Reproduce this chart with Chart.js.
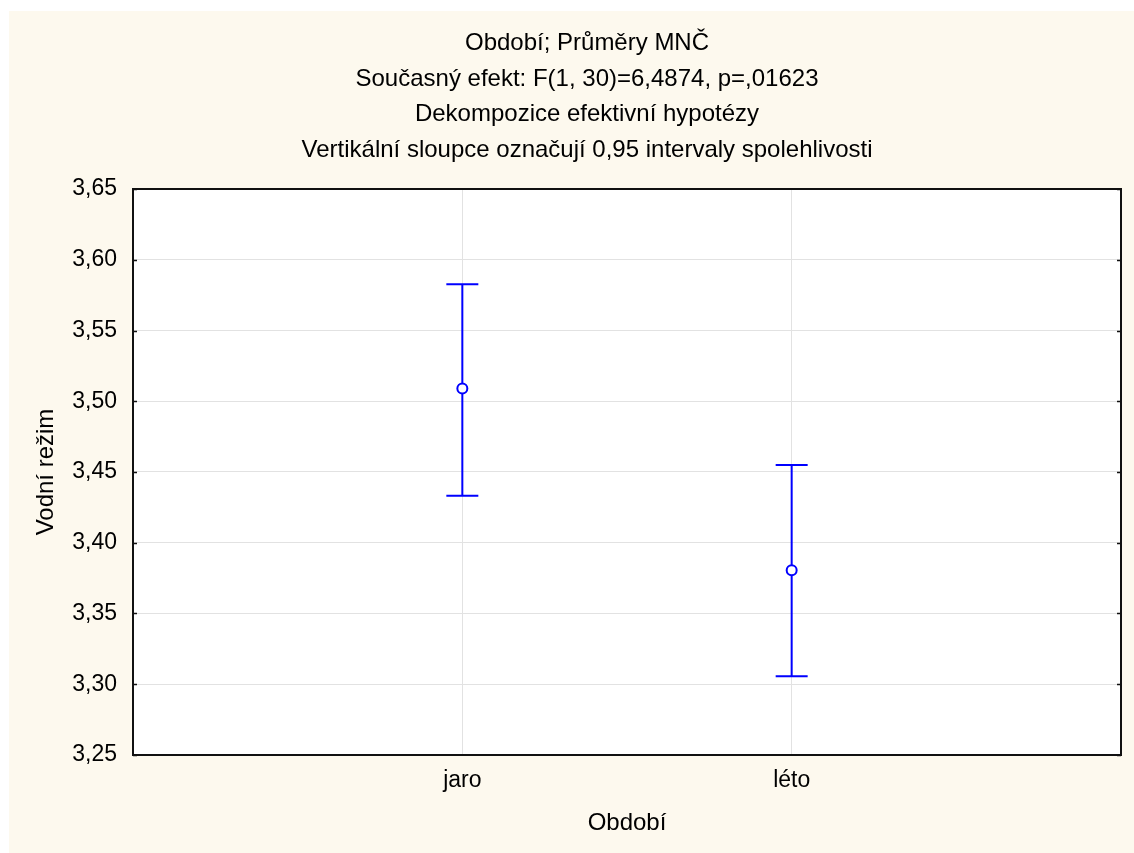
<!DOCTYPE html>
<html>
<head>
<meta charset="utf-8">
<script src="https://cdn.jsdelivr.net/npm/chart.js@4"></script>
<style>
    html, body { margin: 0; padding: 0; background: #ffffff; overflow: hidden; }
    #wrap { width: 1134px; height: 853px; position: relative; }
</style>
</head>
<body>
<div id="wrap"><canvas id="chart"></canvas></div>
<script>
// data
const categories = ['jaro', 'léto'];
const means = [3.509, 3.3805];
const lower = [3.4333, 3.3056];   // 0,95 CI lower
const upper = [3.5827, 3.4549];   // 0,95 CI upper
const yTicks = [3.25, 3.30, 3.35, 3.40, 3.45, 3.50, 3.55, 3.60, 3.65];
const titleLines = [
    'Období; Průměry MNČ',
    'Současný efekt: F(1, 30)=6,4874, p=,01623',
    'Dekompozice efektivní hypotézy',
    'Vertikální sloupce označují 0,95 intervaly spolehlivosti'
];

const FONT = '"Liberation Sans", Arial, sans-serif';
const blue = '#0000ff';

// cream page + white plot + frame
const frame = {
    id: 'frame',
    beforeDraw(chart) {
        const { ctx, chartArea: a } = chart;
        ctx.save();
        ctx.fillStyle = '#ffffff';
        ctx.fillRect(0, 0, chart.width, chart.height);
        ctx.fillStyle = '#fdf9ee';
        ctx.fillRect(9, 11, chart.width - 9, chart.height - 11);
        ctx.fillStyle = '#ffffff';
        ctx.fillRect(a.left, a.top, a.right - a.left, a.bottom - a.top);
        ctx.restore();
    },
    afterDraw(chart) {
        const { ctx, chartArea: a } = chart;
        const y = chart.scales.y;
        ctx.save();
        ctx.strokeStyle = '#111';
        ctx.lineWidth = 2;
        ctx.strokeRect(a.left, a.top, a.right - a.left, a.bottom - a.top);
        ctx.lineWidth = 1.5;
        yTicks.forEach(v => {
            const py = Math.round(y.getPixelForValue(v)) + 0.5;
            ctx.beginPath();
            ctx.moveTo(a.left, py); ctx.lineTo(a.left + 4, py);
            ctx.moveTo(a.right, py); ctx.lineTo(a.right - 4, py);
            ctx.stroke();
        });
        ctx.restore();
    }
};

// vertical CI bars with caps
const errorBars = {
    id: 'errorBars',
    beforeDatasetsDraw(chart) {
        const { ctx } = chart;
        const xs = chart.scales.x, ys = chart.scales.y;
        ctx.save();
        ctx.strokeStyle = blue;
        ctx.lineWidth = 2;
        categories.forEach((c, i) => {
            const px = xs.getPixelForValue(i + 1);
            const lo = ys.getPixelForValue(lower[i]);
            const hi = ys.getPixelForValue(upper[i]);
            ctx.beginPath();
            ctx.moveTo(px, lo); ctx.lineTo(px, hi);
            ctx.moveTo(px - 16, lo); ctx.lineTo(px + 16, lo);
            ctx.moveTo(px - 16, hi); ctx.lineTo(px + 16, hi);
            ctx.stroke();
        });
        ctx.restore();
    }
};

const ctx = document.getElementById('chart').getContext('2d');
const chart = new Chart(ctx, {
    type: 'scatter',
    data: {
        datasets: [{
            label: 'Vodní režim',
            data: means.map((m, i) => ({ x: i + 1, y: m })),
            borderColor: blue,
            backgroundColor: '#ffffff',
            pointRadius: 5,
            pointBorderWidth: 2,
            showLine: false
        }]
    },
    options: {
        responsive: true,
        maintainAspectRatio: false,
        animation: false,
        layout: { padding: { left: 53, right: 13, top: 0, bottom: 0 } },
        plugins: {
            legend: { display: false },
            tooltip: { enabled: false },
            title: {
                display: true,
                text: titleLines,
                color: '#000',
                font: { family: FONT, size: 24, weight: 'normal', lineHeight: 35.5 / 24 },
                padding: { top: 26, bottom: 21 }
            }
        },
        scales: {
            x: {
                type: 'linear',
                min: 0,
                max: 3,
                afterBuildTicks: s => { s.ticks = categories.map((c, i) => ({ value: i + 1 })); },
                afterFit: s => { s.height = 98; },
                grid: { color: '#e2e2e2', lineWidth: 1, drawTicks: false },
                border: { display: false },
                ticks: {
                    color: '#000',
                    padding: 12,
                    font: { family: FONT, size: 23 },
                    callback: v => categories[v - 1]
                },
                title: {
                    display: true,
                    text: 'Období',
                    color: '#000',
                    font: { family: FONT, size: 24 },
                    padding: { top: 0, bottom: 15 }
                }
            },
            y: {
                min: 3.25,
                max: 3.65,
                afterBuildTicks: s => { s.ticks = yTicks.map(v => ({ value: v })); },
                afterFit: s => { s.width = 80; },
                grid: { color: '#e2e2e2', lineWidth: 1, drawTicks: false },
                border: { display: false },
                ticks: {
                    color: '#000',
                    padding: 16,
                    font: { family: FONT, size: 23 },
                    callback: v => v.toFixed(2).replace('.', ',')
                },
                title: {
                    display: true,
                    text: 'Vodní režim',
                    color: '#000',
                    font: { family: FONT, size: 24 },
                    padding: { top: -21, bottom: 0 }
                }
            }
        }
    },
    plugins: [frame, errorBars]
});
</script>
</body>
</html>
